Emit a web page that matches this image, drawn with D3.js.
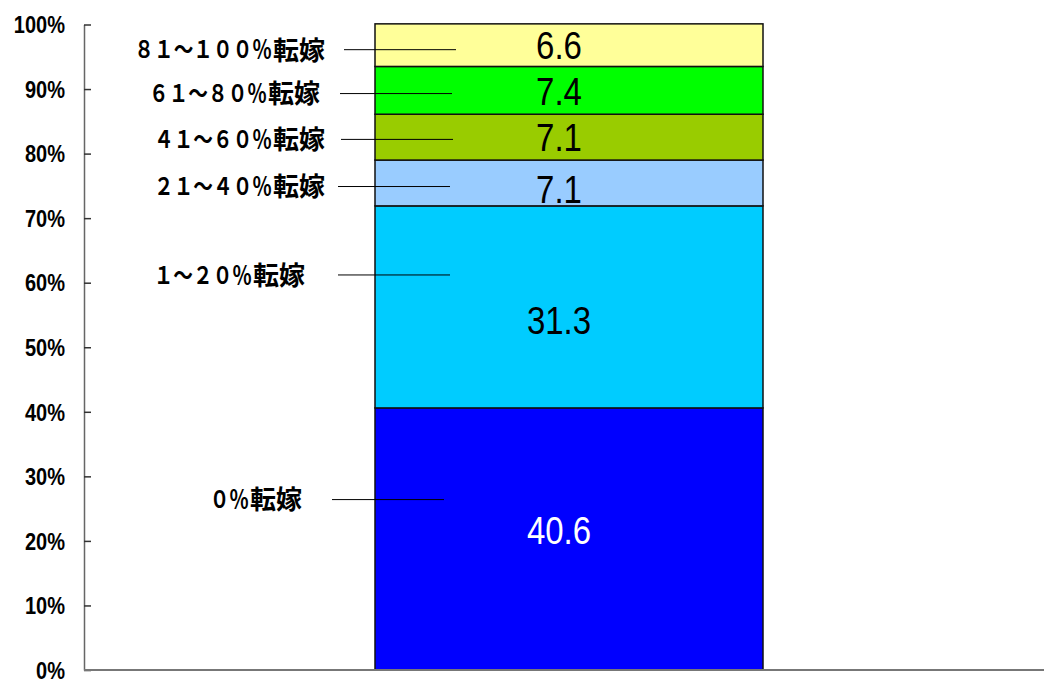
<!DOCTYPE html>
<html>
<head>
<meta charset="utf-8">
<script src="https://cdn.jsdelivr.net/npm/d3@7"></script>
<style>
  body { margin: 0; background: #fff; }
  svg { display: block; }
</style>
</head>
<body>
<svg id="chart" width="1044" height="680"></svg>
<script>
// stacked from bottom to top
const categories = ["０％転嫁", "１～２０％転嫁", "２１～４０％転嫁", "４１～６０％転嫁", "６１～８０％転嫁", "８１～１００％転嫁"];
const values = [40.6, 31.3, 7.1, 7.1, 7.4, 6.6];
const colors = ["#0000ff", "#00ccff", "#99ccff", "#99cc00", "#00ff00", "#ffff99"];
const yTicks = [0, 10, 20, 30, 40, 50, 60, 70, 80, 90, 100];
const barName = ["全体"];

// where the leader lines sit (in % units) and small x shifts for the labels
const leaderAt = [26.4, 61.2, 74.9, 82.2, 89.3, 96.1];
const leaderShift = [-8, -2, -2, 1, 0, 4];
const labelShift = [-23, -20, 0, 0, -5, 0];
const labelNudge = [-9, 13, 6, 0, 0, 0];

const svg = d3.select("#chart");

const y = d3.scaleLinear().domain([0, 100]).range([670, 24.5]);
const x = d3.scaleBand().domain(barName).range([181, 957]).paddingOuter(0.5).paddingInner(0);

// stack
let acc = 0;
const segs = values.map((v, i) => {
  const s = { name: categories[i], value: v, y0: acc, y1: acc + v, color: colors[i], i: i };
  acc += v;
  return s;
});

// y axis
const yAxis = d3.axisLeft(y)
  .tickValues(yTicks)
  .tickSizeInner(-7)
  .tickSizeOuter(0)
  .tickPadding(0)
  .tickFormat(d => d + "%");

const ga = svg.append("g")
  .attr("transform", "translate(84,0)")
  .call(yAxis);
ga.select(".domain").attr("stroke", "#666").attr("stroke-width", 1.5);
ga.selectAll(".tick line").attr("stroke", "#333").attr("stroke-width", 1.5);
ga.selectAll(".tick text")
  .attr("x", 0)
  .attr("dy", "0.36em")
  .attr("transform", "translate(-19,0) scale(1,1.15)")
  .attr("fill", "#000")
  .style("font-family", "'Liberation Sans', Arial, sans-serif")
  .style("font-weight", "bold")
  .style("font-size", "20px");

// bars
svg.append("g").selectAll("rect")
  .data(segs)
  .join("rect")
  .attr("x", x(barName[0]))
  .attr("width", x.bandwidth())
  .attr("y", d => y(d.y1))
  .attr("height", d => y(d.y0) - y(d.y1))
  .attr("fill", d => d.color)
  .attr("stroke", "#111")
  .attr("stroke-width", 1.5);

// baseline
svg.append("line")
  .attr("x1", 84).attr("x2", 1044)
  .attr("y1", y(0)).attr("y2", y(0))
  .attr("stroke", "#777")
  .attr("stroke-width", 2);

// value labels
const vx = x(barName[0]) + x.bandwidth() / 2 - 10;
svg.append("g").selectAll("g")
  .data(segs)
  .join("g")
  .attr("transform", d => `translate(${vx},${(y(d.y0) + y(d.y1)) / 2 + labelNudge[d.i]}) scale(1,1.2)`)
  .append("text")
  .attr("text-anchor", "middle")
  .attr("dy", "0.36em")
  .attr("fill", d => d.i === 0 ? "#fff" : "#000")
  .style("font-family", "'Liberation Sans', Arial, sans-serif")
  .style("font-size", "33px")
  .text(d => d.value.toFixed(1));

// category labels with leader lines
const lg = svg.append("g").selectAll("g")
  .data(segs)
  .join("g")
  .attr("transform", d => `translate(0,${y(leaderAt[d.i])})`);

lg.append("line")
  .attr("x1", d => 340 + leaderShift[d.i]).attr("x2", d => 452 + leaderShift[d.i])
  .attr("y1", 0).attr("y2", 0)
  .attr("stroke", "#000")
  .attr("stroke-width", 1);

const jpFont = "'Noto Sans CJK JP', sans-serif";

// kanji part
lg.append("text")
  .attr("x", d => 325 + labelShift[d.i])
  .attr("text-anchor", "end")
  .attr("dy", "0.38em")
  .attr("fill", "#000")
  .style("font-family", jpFont)
  .style("font-weight", "bold")
  .style("font-size", "26px")
  .text(d => d.name.slice(-2));

// digits part, narrower and tall
lg.append("g")
  .attr("transform", d => `translate(${325 + labelShift[d.i] - 53},0) scale(0.82,1)`)
  .append("text")
  .attr("text-anchor", "end")
  .attr("dy", "0.36em")
  .attr("fill", "#000")
  .style("font-family", jpFont)
  .style("font-weight", "bold")
  .style("font-size", "24px")
  .text(d => d.name.slice(0, -2));
</script>
</body>
</html>
